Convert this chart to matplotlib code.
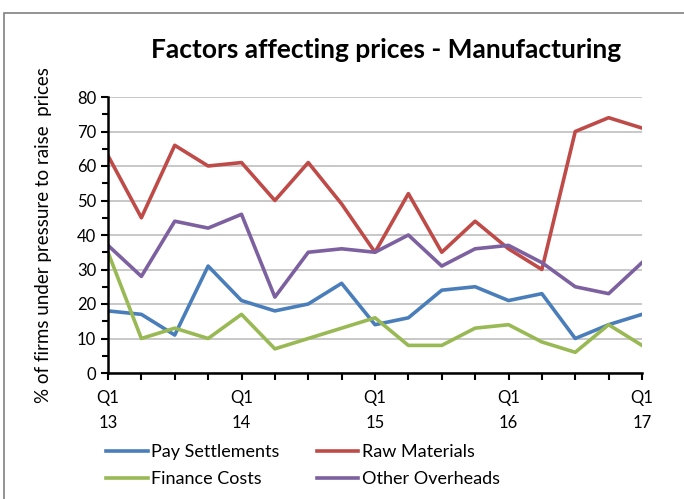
import matplotlib
matplotlib.use("Agg")
import matplotlib.pyplot as plt
from matplotlib.ticker import MultipleLocator, FixedLocator
from matplotlib.patches import Rectangle

quarters = list(range(17))
tick_labels = ["Q1\n13", "", "", "", "Q1\n14", "", "", "", "Q1\n15", "", "", "", "Q1\n16", "", "", "", "Q1\n17"]
pay = [18, 17, 11, 31, 21, 18, 20, 26, 14, 16, 24, 25, 21, 23, 10, 14, 17]
raw = [63, 45, 66, 60, 61, 50, 61, 49, 35, 52, 35, 44, 36, 30, 70, 74, 71]
finance = [35, 10, 13, 10, 17, 7, 10, 13, 16, 8, 8, 13, 14, 9, 6, 14, 8]
other = [37, 28, 44, 42, 46, 22, 35, 36, 35, 40, 31, 36, 37, 32, 25, 23, 32]

plt.rcParams['font.family'] = ['Lato', 'DejaVu Sans']

fig = plt.figure(figsize=(6.84, 4.99), dpi=100)
fig.patches.append(Rectangle((4/684, -0.1), 1.1, 1 - 13/499 + 0.1, transform=fig.transFigure,
                             fill=False, edgecolor='#808080', linewidth=1.2))
ax = fig.add_axes([108/684, 1 - 373/499, (642 - 108)/684, (373 - 97)/499])

lw = 2.6
l1, = ax.plot(quarters, pay, color='#4A7EBB', lw=lw, label='Pay Settlements')
l2, = ax.plot(quarters, raw, color='#BE4B48', lw=lw, label='Raw Materials')
l3, = ax.plot(quarters, finance, color='#98B954', lw=lw, label='Finance Costs')
l4, = ax.plot(quarters, other, color='#7D60A0', lw=lw, label='Other Overheads')

ax.set_xlim(0, 16)
ax.set_ylim(0, 80)
ax.yaxis.set_major_locator(MultipleLocator(10))
ax.yaxis.set_minor_locator(MultipleLocator(5))
ax.xaxis.set_major_locator(FixedLocator(quarters))
ax.set_xticklabels(tick_labels)
ax.grid(axis='y', which='major', color='#BFBFBF', lw=1.2)
ax.set_axisbelow(True)
for s in ['top', 'right']:
    ax.spines[s].set_visible(False)
for s in ['left', 'bottom']:
    ax.spines[s].set_linewidth(1.8)
    ax.spines[s].set_zorder(5)
ax.tick_params(axis='both', which='major', direction='out', length=5, width=1.5, labelsize=12)
ax.tick_params(axis='y', which='minor', direction='out', length=4, width=1.5)
ax.tick_params(axis='x', pad=7)
for lab in ax.get_xticklabels():
    lab.set_linespacing(1.75)

ax.set_ylabel('% of firms under pressure to raise  prices', fontsize=13.5, labelpad=18)
fig.text(386/684, 1 - 50/499, 'Factors affecting prices - Manufacturing', ha='center', va='center',
         fontsize=19, fontweight='bold')

fig.legend([l1, l3, l2, l4], ['Pay Settlements', 'Finance Costs', 'Raw Materials', 'Other Overheads'],
           loc='upper left', bbox_to_anchor=(90/684, 1 - 428/499), ncol=2,
           frameon=False, fontsize=13, handlelength=2.3, handletextpad=0.2,
           columnspacing=2.05, labelspacing=0.6)

fig.savefig('out.png', dpi=100)
